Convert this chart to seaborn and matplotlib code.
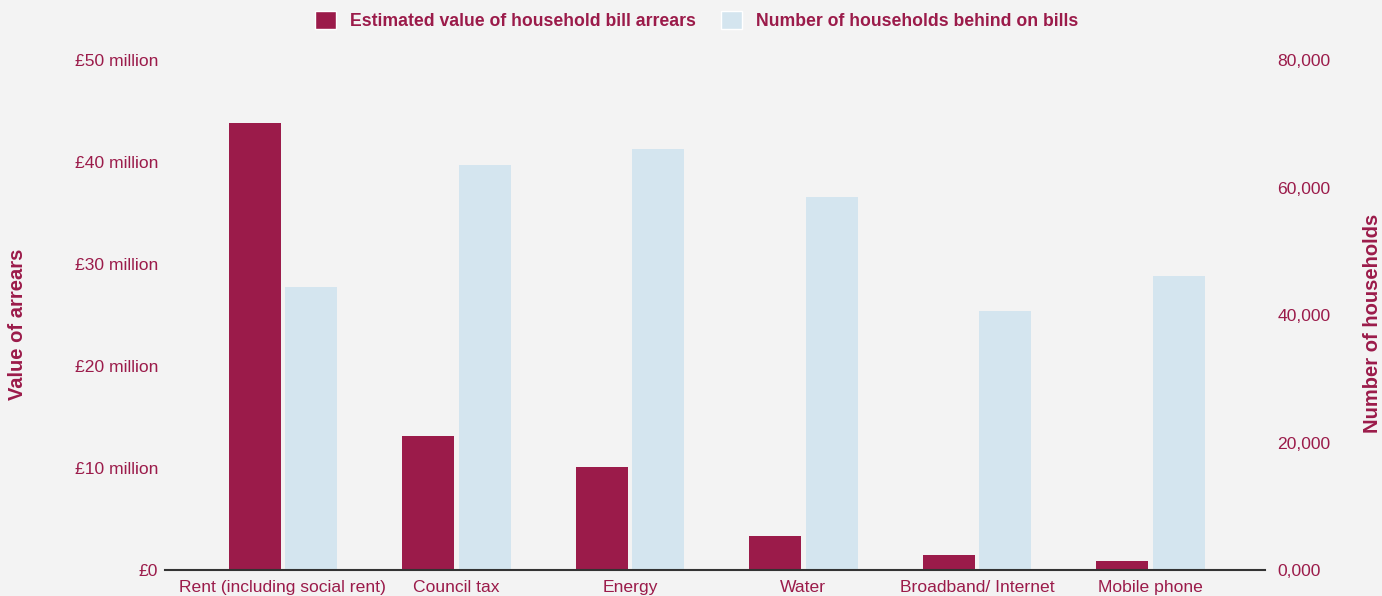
import numpy as np
import matplotlib.pyplot as plt
import seaborn as sns
from matplotlib.patches import Patch

categories = ['Rent (including social rent)', 'Council tax', 'Energy',
              'Water', 'Broadband/ Internet', 'Mobile phone']
arrears_millions = [43.8, 13.1, 10.1, 3.3, 1.5, 0.9]
households = [44400, 63500, 66000, 58500, 40600, 46100]

left_ticks = [0, 10, 20, 30, 40, 50]
left_labels = ['£0', '£10 million', '£20 million', '£30 million', '£40 million', '£50 million']
right_ticks = [0, 20000, 40000, 60000, 80000]
right_labels = ['0,000', '20,000', '40,000', '60,000', '80,000']

s1 = 'Estimated value of household bill arrears'
s2 = 'Number of households behind on bills'
maroon = '#9b1b4a'
light = '#d4e5ef'
bg = '#f3f3f3'

sns.set_style('white')
plt.rcParams['font.family'] = ['Liberation Sans', 'DejaVu Sans']

fig = plt.figure(figsize=(13.82, 5.96), dpi=100, facecolor=bg)
ax = fig.add_axes([0.1194, 0.0436, 0.7959, 0.8557])
ax.set_facecolor(bg)
ax2 = ax.twinx()

x = np.arange(len(categories))
bw = 0.30
ax.bar(x - 0.162, arrears_millions, width=bw, color=maroon, linewidth=0)
ax2.bar(x + 0.162, households, width=bw, color=light, linewidth=0)

ax.set_xlim(-0.68, 5.66)
ax.set_ylim(0, 50)
ax2.set_ylim(0, 80000)
ax.set_xticks(x)
ax.set_xticklabels(categories)
ax.set_yticks(left_ticks)
ax.set_yticklabels(left_labels)
ax2.set_yticks(right_ticks)
ax2.set_yticklabels(right_labels)

for a in (ax, ax2):
    for sp in ['top', 'left', 'right', 'bottom']:
        a.spines[sp].set_visible(False)
    a.tick_params(length=0, labelsize=12.6, colors=maroon)
ax2.spines['bottom'].set_visible(True)
ax2.spines['bottom'].set_color('#333333')
ax2.spines['bottom'].set_linewidth(1.5)
ax.tick_params(axis='y', pad=5)
ax2.tick_params(axis='y', pad=9)
ax.tick_params(axis='x', pad=7)

fig.text(0.013, 0.456, 'Value of arrears', rotation=90, ha='center', va='center',
         fontsize=14.5, fontweight='bold', color=maroon)
fig.text(0.993, 0.458, 'Number of households', rotation=90, ha='center', va='center',
         fontsize=14.5, fontweight='bold', color=maroon)

handles = [Patch(facecolor=maroon, label=s1), Patch(facecolor=light, label=s2)]
leg = fig.legend(handles=handles, loc='upper center', bbox_to_anchor=(0.504, 1.008), ncol=2,
                 frameon=False, handlelength=1.2, handleheight=1.2, columnspacing=1.4,
                 prop={'weight': 'bold', 'size': 12.7})
for t in leg.get_texts():
    t.set_color(maroon)

fig.savefig('out.png', dpi=100, facecolor=bg)
